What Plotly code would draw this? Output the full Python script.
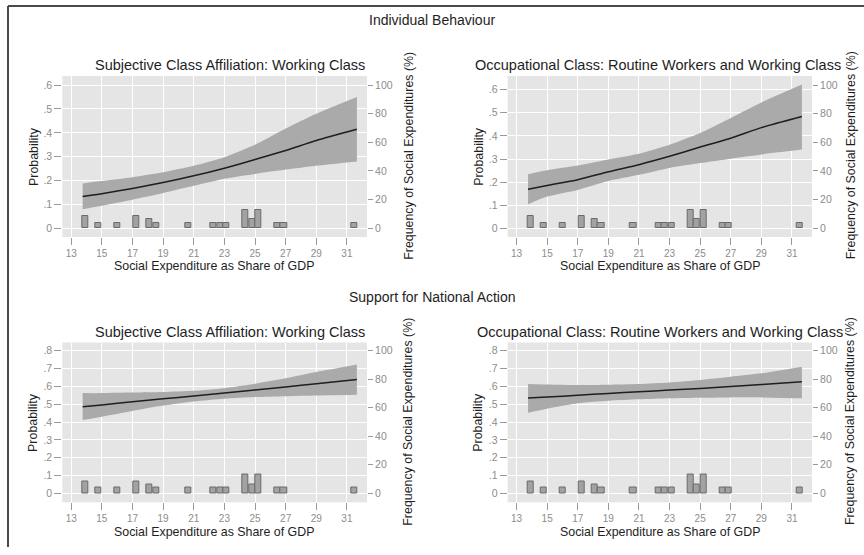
import plotly.graph_objects as go

# ---------------- data ----------------
x_pred = [13.75, 15, 17, 19, 21, 23, 25, 27, 29, 31.65]

ib_subj_mean = [0.133, 0.145, 0.167, 0.192, 0.220, 0.252, 0.288, 0.326, 0.368, 0.415]
ib_subj_upper = [0.188, 0.198, 0.214, 0.235, 0.262, 0.298, 0.350, 0.418, 0.480, 0.550]
ib_subj_lower = [0.080, 0.095, 0.120, 0.148, 0.178, 0.208, 0.228, 0.246, 0.262, 0.280]

ib_occ_mean = [0.170, 0.186, 0.211, 0.245, 0.276, 0.312, 0.352, 0.390, 0.436, 0.484]
ib_occ_upper = [0.235, 0.252, 0.272, 0.298, 0.323, 0.362, 0.413, 0.478, 0.545, 0.622]
ib_occ_lower = [0.105, 0.138, 0.167, 0.205, 0.232, 0.262, 0.283, 0.302, 0.320, 0.341]

na_subj_mean = [0.486, 0.496, 0.513, 0.530, 0.546, 0.563, 0.580, 0.597, 0.614, 0.638]
na_subj_upper = [0.562, 0.562, 0.565, 0.568, 0.575, 0.590, 0.615, 0.645, 0.680, 0.722]
na_subj_lower = [0.411, 0.430, 0.462, 0.492, 0.515, 0.530, 0.540, 0.545, 0.549, 0.553]

na_occ_mean = [0.534, 0.540, 0.550, 0.560, 0.570, 0.579, 0.588, 0.599, 0.610, 0.626]
na_occ_upper = [0.613, 0.610, 0.607, 0.609, 0.613, 0.622, 0.636, 0.654, 0.673, 0.710]
na_occ_lower = [0.452, 0.475, 0.505, 0.519, 0.527, 0.533, 0.536, 0.538, 0.538, 0.533]

hist_centers = [13.93, 14.76, 16.0, 17.27, 18.11, 18.53, 20.62, 22.29, 22.71, 23.13,
                24.38, 24.80, 25.21, 26.46, 26.88, 31.49]
hist_freq = [8.3, 4, 4, 8.6, 6.3, 4, 4, 4, 4, 4, 12.9, 6.3, 12.9, 4, 4, 4]

x_ticks = [13, 15, 17, 19, 21, 23, 25, 27, 29, 31]
prob_ticks_top = [0, 0.1, 0.2, 0.3, 0.4, 0.5, 0.6]
prob_labels_top = ["0", ".1", ".2", ".3", ".4", ".5", ".6"]
prob_ticks_bot = [0, 0.1, 0.2, 0.3, 0.4, 0.5, 0.6, 0.7, 0.8]
prob_labels_bot = ["0", ".1", ".2", ".3", ".4", ".5", ".6", ".7", ".8"]
freq_ticks = [0, 20, 40, 60, 80, 100]

section_titles = ["Individual Behaviour", "Support for National Action"]
panel_titles = ["Subjective Class Affiliation: Working Class",
                "Occupational Class: Routine Workers and Working Class",
                "Subjective Class Affiliation: Working Class",
                "Occupational Class: Routine Workers and Working Class"]
x_title = "Social Expenditure as Share of GDP"
y_title = "Probability"
y2_title = "Frequency of Social Expenditures (%)"

# ---------------- layout helpers ----------------
W, H = 864, 555
FONT = "Liberation Sans, Arial, sans-serif"
def fx(p):
    return p / W
def fy(p):
    return 1 - p / H

panels = [
    dict(mean=ib_subj_mean, up=ib_subj_upper, lo=ib_subj_lower,
         xd=(62.3, 367.0), yd=(76.0, 237.0), yr=[-0.0364, 0.638],
         pt=prob_ticks_top, pl=prob_labels_top, fr=[-6.1, 106.3],
         title_xy=(229.5, 65), xt_xy=(214, 266), yt_x=33.5, y2t_x=408.3),
    dict(mean=ib_occ_mean, up=ib_occ_upper, lo=ib_occ_lower,
         xd=(507.7, 812.0), yd=(76.0, 237.0), yr=[-0.0365, 0.659],
         pt=prob_ticks_top, pl=prob_labels_top, fr=[-6.1, 106.3],
         title_xy=(658, 65), xt_xy=(660, 266), yt_x=478.3, y2t_x=850.7),
    dict(mean=na_subj_mean, up=na_subj_upper, lo=na_subj_lower,
         xd=(62.3, 367.0), yd=(342.5, 502.3), yr=[-0.0505, 0.846],
         pt=prob_ticks_bot, pl=prob_labels_bot, fr=[-6.3, 105.75],
         title_xy=(229.5, 331.5), xt_xy=(214, 532), yt_x=33.5, y2t_x=408.3),
    dict(mean=na_occ_mean, up=na_occ_upper, lo=na_occ_lower,
         xd=(507.7, 812.0), yd=(342.5, 502.3), yr=[-0.0505, 0.846],
         pt=prob_ticks_bot, pl=prob_labels_bot, fr=[-6.3, 105.75],
         title_xy=(660, 331.5), xt_xy=(660, 532), yt_x=478.3, y2t_x=850.7),
]

fig = go.Figure()
layout = {}
annotations = []
TICKC = "#8c8c8c"
TITLEC = "#1e1e1e"
SPL = dict(shape="spline", smoothing=0.6)

for i, p in enumerate(panels, start=1):
    xa = "x" if i == 1 else f"x{i}"
    ya = "y" if i == 1 else f"y{i}"
    ya2 = f"y{i + 4}"
    # CI band: lower edge, then upper edge filled down to it
    fig.add_trace(go.Scatter(
        x=x_pred, y=p["lo"], mode="lines", line=dict(width=0, **SPL),
        showlegend=False, hoverinfo="skip", xaxis=xa, yaxis=ya))
    fig.add_trace(go.Scatter(
        x=x_pred, y=p["up"], mode="lines", line=dict(width=0, **SPL),
        fill="tonexty", fillcolor="#aaaaaa",
        showlegend=False, hoverinfo="skip", xaxis=xa, yaxis=ya))
    # fitted line
    fig.add_trace(go.Scatter(
        x=x_pred, y=p["mean"], mode="lines",
        line=dict(color="#1e1e1e", width=1.5, **SPL),
        showlegend=False, xaxis=xa, yaxis=ya))
    # histogram
    fig.add_trace(go.Bar(
        x=hist_centers, y=hist_freq, width=0.40,
        marker=dict(color="#a2a2a2", line=dict(color="#6a6a6a", width=1)),
        showlegend=False, xaxis=xa, yaxis=ya2))

    xkey = "xaxis" if i == 1 else f"xaxis{i}"
    ykey = "yaxis" if i == 1 else f"yaxis{i}"
    layout[xkey] = dict(
        domain=[fx(p["xd"][0]), fx(p["xd"][1])], anchor=ya,
        range=[12.42, 32.31], tickvals=x_ticks, showgrid=True,
        gridcolor="white", gridwidth=1, zeroline=False, showline=False,
        ticks="outside", ticklen=7, tickcolor="#9a9a9a", tickwidth=1,
        tickfont=dict(family=FONT, size=10, color=TICKC))
    layout[ykey] = dict(
        domain=[fy(p["yd"][1]), fy(p["yd"][0])], anchor=xa,
        range=p["yr"], tickvals=p["pt"], ticktext=p["pl"], showgrid=True,
        gridcolor="white", gridwidth=1, zeroline=False, showline=False,
        ticks="outside", ticklen=7, tickcolor="#9a9a9a", tickwidth=1,
        tickfont=dict(family=FONT, size=10.5, color=TICKC))
    layout[f"yaxis{i + 4}"] = dict(
        overlaying=ya, side="right", anchor=xa,
        range=p["fr"], tickvals=freq_ticks, showgrid=False, zeroline=False,
        showline=False, ticks="outside", ticklen=5, tickcolor="#9a9a9a",
        tickwidth=1, tickfont=dict(family=FONT, size=10.5, color=TICKC))

    annotations.append(dict(text=panel_titles[i - 1], x=fx(p["title_xy"][0]), y=fy(p["title_xy"][1]),
                            xref="paper", yref="paper", xanchor="center", yanchor="middle",
                            showarrow=False, font=dict(family=FONT, size=14.5, color=TITLEC)))
    annotations.append(dict(text=x_title, x=fx(p["xt_xy"][0]), y=fy(p["xt_xy"][1]),
                            xref="paper", yref="paper", xanchor="center", yanchor="middle",
                            showarrow=False, font=dict(family=FONT, size=12.4, color=TITLEC)))
    ymid = (p["yd"][0] + p["yd"][1]) / 2
    annotations.append(dict(text=y_title, x=fx(p["yt_x"]), y=fy(ymid), textangle=-90,
                            xref="paper", yref="paper", xanchor="center", yanchor="middle",
                            showarrow=False, font=dict(family=FONT, size=12.4, color=TITLEC)))
    annotations.append(dict(text=y2_title, x=fx(p["y2t_x"]), y=fy(ymid - 1), textangle=-90,
                            xref="paper", yref="paper", xanchor="center", yanchor="middle",
                            showarrow=False, font=dict(family=FONT, size=12.4, color=TITLEC)))

annotations.append(dict(text=section_titles[0], x=fx(432), y=fy(20), xref="paper", yref="paper",
                        xanchor="center", yanchor="middle", showarrow=False,
                        font=dict(family=FONT, size=14, color=TITLEC)))
annotations.append(dict(text=section_titles[1], x=fx(432), y=fy(297), xref="paper", yref="paper",
                        xanchor="center", yanchor="middle", showarrow=False,
                        font=dict(family=FONT, size=14, color=TITLEC)))

shapes = [
    dict(type="line", xref="paper", yref="paper", x0=fx(8), x1=1.0, y0=fy(6), y1=fy(6),
         line=dict(color="#4a4a4a", width=2)),
    dict(type="line", xref="paper", yref="paper", x0=fx(8), x1=fx(8), y0=fy(6), y1=fy(547),
         line=dict(color="#4a4a4a", width=2)),
]

fig.update_layout(
    width=W, height=H, margin=dict(l=0, r=0, t=0, b=0),
    paper_bgcolor="white", plot_bgcolor="#e5e5e5",
    showlegend=False, bargap=0, annotations=annotations, shapes=shapes,
    font=dict(family=FONT), **layout)

fig.write_html("out.html")
